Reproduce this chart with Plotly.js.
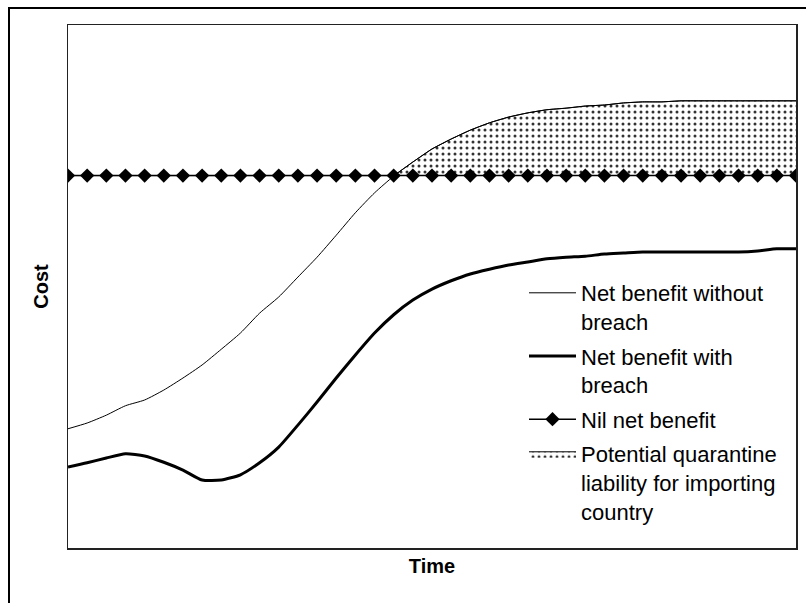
<!DOCTYPE html>
<html>
<head>
<meta charset="utf-8">
<script src="https://cdn.plot.ly/plotly-3.0.1.min.js"></script>
<style>
  html, body { margin: 0; padding: 0; background: #fff; }
  #chart { width: 806px; height: 603px; }
</style>
</head>
<body>
<div id="chart"></div>
<script>
// Time steps (categories, unlabeled on the chart)
var timeSteps = [0,1,2,3,4,5,6,7,8,9,10,11,12,13,14,15,16,17,18,19,20,21,22,23,24,25,26,27,28,29,30,31,32,33,34,35,36,37,38];

// Net benefit without breach (thin line)
var withoutBreach = [22.8,23.9,25.4,27.2,28.3,30.2,32.5,35.0,38.0,41.1,44.9,48.0,51.8,55.6,59.8,64.1,67.9,71.1,73.8,76.3,78.2,79.9,81.3,82.4,83.2,83.8,84.1,84.5,84.7,85.1,85.3,85.3,85.5,85.5,85.5,85.5,85.5,85.5,85.5];

// Net benefit with breach (thick line)
var withBreach = [15.5,16.3,17.2,18.0,17.6,16.4,14.9,13.0,13.0,14.0,16.3,19.3,23.5,27.9,32.5,36.9,41.1,44.6,47.4,49.5,51.1,52.4,53.3,54.1,54.7,55.3,55.6,55.8,56.2,56.4,56.6,56.6,56.6,56.6,56.6,56.6,56.8,57.2,57.2];

// Nil net benefit (constant level)
var nilBenefit = [71.2,71.2,71.2,71.2,71.2,71.2,71.2,71.2,71.2,71.2,71.2,71.2,71.2,71.2,71.2,71.2,71.2,71.2,71.2,71.2,71.2,71.2,71.2,71.2,71.2,71.2,71.2,71.2,71.2,71.2,71.2,71.2,71.2,71.2,71.2,71.2,71.2,71.2,71.2];

var seriesNames = [
  "Net benefit without<br>breach",
  "Net benefit with<br>breach",
  "Nil net benefit",
  "Potential quarantine<br>liability for importing<br>country"
];

// Upper edge of the liability area: the higher of the two levels
var liabilityTop = withoutBreach.map(function (v, i) { return Math.max(v, nilBenefit[i]); });

var FONT = "Liberation Sans, Arial, Helvetica, sans-serif";

var traces = [
  { // base of the shaded area
    x: timeSteps, y: nilBenefit, type: "scatter", mode: "lines",
    line: { width: 0, color: "rgba(0,0,0,0)" },
    showlegend: false, hoverinfo: "skip", legendgroup: "g0"
  },
  {
    x: timeSteps, y: liabilityTop, type: "scatter", mode: "lines",
    name: seriesNames[3], fill: "tonexty",
    fillcolor: "#ffffff",
    fillpattern: { shape: ".", size: 6, solidity: 0.2, fgcolor: "#333333", bgcolor: "#ffffff" },
    line: { width: 1, color: "#000000" },
    legendrank: 4, legendgroup: "g4"
  },
  {
    x: timeSteps, y: withoutBreach, type: "scatter", mode: "lines",
    name: seriesNames[0],
    line: { width: 1, color: "#000000", shape: "spline", smoothing: 0.6 },
    legendrank: 1, legendgroup: "g1"
  },
  {
    x: timeSteps, y: withBreach, type: "scatter", mode: "lines",
    name: seriesNames[1],
    line: { width: 3, color: "#000000", shape: "spline", smoothing: 0.6 },
    legendrank: 2, legendgroup: "g2"
  },
  {
    x: timeSteps, y: nilBenefit, type: "scatter", mode: "lines+markers",
    name: seriesNames[2],
    line: { width: 1.5, color: "#000000" },
    marker: { symbol: "diamond", size: 11, color: "#000000" },
    legendrank: 3, legendgroup: "g3"
  }
];

var L = 68, R = 10, T = 25, B = 55;
var W = 806, H = 603;
var pw = W - L - R, ph = H - T - B;
function px2fx(px) { return (px - L) / pw; }
function px2fy(py) { return (H - B - py) / ph; }

var layout = {
  width: W, height: H,
  margin: { l: L, r: R, t: T, b: B, pad: 0 },
  paper_bgcolor: "#ffffff",
  plot_bgcolor: "#ffffff",
  font: { family: FONT, color: "#000000", size: 20 },
  showlegend: true,
  legend: {
    x: px2fx(524), y: px2fy(272), xanchor: "left", yanchor: "top",
    bgcolor: "rgba(0,0,0,0)", borderwidth: 0,
    font: { family: FONT, size: 22, color: "#000000" },
    itemwidth: 47, valign: "top", tracegroupgap: 3,
    traceorder: "grouped"
  },
  xaxis: {
    range: [0, 38], showticklabels: false, ticks: "", showgrid: false, zeroline: false,
    showline: true, mirror: true, linecolor: "#222222", linewidth: 1.5,
    title: { text: "Time", font: { family: FONT, size: 20, weight: "bold", color: "#000000" }, standoff: 10 }
  },
  yaxis: {
    range: [0, 100], showticklabels: false, ticks: "", showgrid: false, zeroline: false,
    showline: true, mirror: true, linecolor: "#222222", linewidth: 1.5,
    title: { text: "Cost", font: { family: FONT, size: 20, weight: "bold", color: "#000000" }, standoff: 12 }
  },
  shapes: [
    { type: "rect", xref: "paper", yref: "paper",
      x0: px2fx(9), x1: px2fx(830), y0: px2fy(630), y1: px2fy(8),
      line: { color: "#000000", width: 2 }, fillcolor: "rgba(0,0,0,0)", layer: "below" }
  ]
};

Plotly.newPlot("chart", traces, layout, { staticPlot: true, displayModeBar: false });
</script>
</body>
</html>
